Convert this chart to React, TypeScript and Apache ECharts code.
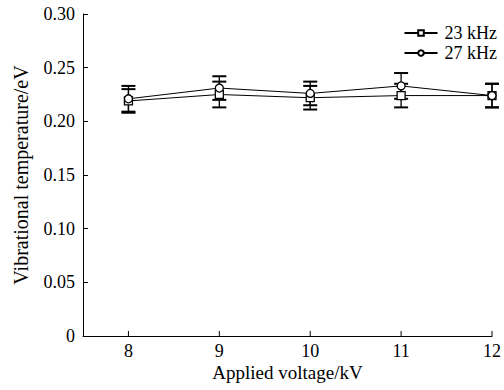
import React, { useEffect, useRef } from "react";
import * as echarts from "echarts";

const voltages = [8, 9, 10, 11, 12];
const t23 = [0.219, 0.225, 0.222, 0.224, 0.224];
const e23 = [0.011, 0.012, 0.011, 0.011, 0.011];
const t27 = [0.221, 0.231, 0.226, 0.233, 0.224];
const e27 = [0.012, 0.011, 0.011, 0.012, 0.011];
const seriesNames = ["23 kHz", "27 kHz"];

const FONT = "'Liberation Serif', 'Times New Roman', serif";

function errorSeries(vals: number[], errs: number[]) {
  return {
    type: "custom",
    silent: true,
    z: 3,
    data: voltages.map((v, i) => [v, vals[i] - errs[i], vals[i] + errs[i]]),
    renderItem: (params: any, api: any) => {
      const x = api.value(0);
      const lo = api.coord([x, api.value(1)]);
      const hi = api.coord([x, api.value(2)]);
      const w = 7;
      const style = { stroke: "#000", lineWidth: 1.3 };
      return {
        type: "group",
        children: [
          { type: "line", shape: { x1: lo[0], y1: lo[1], x2: hi[0], y2: hi[1] }, style },
          { type: "line", shape: { x1: lo[0] - w, y1: lo[1], x2: lo[0] + w, y2: lo[1] }, style: { stroke: "#000", lineWidth: 2 } },
          { type: "line", shape: { x1: hi[0] - w, y1: hi[1], x2: hi[0] + w, y2: hi[1] }, style: { stroke: "#000", lineWidth: 2 } },
        ],
      };
    },
  };
}

const xTickSeries = {
  type: "custom",
  silent: true,
  z: 2,
  clip: false,
  data: voltages.map((v) => [v, 0]),
  renderItem: (params: any, api: any) => {
    const p = api.coord([api.value(0), 0]);
    return {
      type: "line",
      shape: { x1: p[0], y1: p[1], x2: p[0], y2: p[1] - 5 },
      style: { stroke: "#000", lineWidth: 1 },
    };
  },
};

export default function App() {
  const ref = useRef<HTMLDivElement>(null);
  useEffect(() => {
    const chart = echarts.init(ref.current!, null, { renderer: "svg" });
    chart.setOption({
      animation: false,
      backgroundColor: "#fff",
      textStyle: { fontFamily: FONT, color: "#000" },
      grid: { left: 83, right: 10, top: 14, bottom: 54, containLabel: false },
      legend: {
        right: 2,
        top: 19,
        orient: "vertical",
        itemWidth: 33,
        itemHeight: 7,
        itemGap: 2,
        textStyle: { fontFamily: FONT, fontSize: 18, color: "#000", padding: [0, 0, 0, 2] },
        data: seriesNames,
      },
      xAxis: {
        type: "value",
        min: 7.5,
        max: 12,
        interval: 0.5,
        name: "Applied voltage/kV",
        nameLocation: "middle",
        nameGap: 27,
        nameMoveOverlap: false,
        nameTextStyle: { fontFamily: FONT, fontSize: 19, lineHeight: 19, color: "#000" },
        axisLine: { lineStyle: { color: "#000", width: 1 } },
        axisTick: { show: false },
        axisLabel: {
          fontFamily: FONT,
          fontSize: 18,
          lineHeight: 16,
          color: "#000",
          margin: 7,
          showMaxLabel: true,
          formatter: (v: number) => (Number.isInteger(v) ? String(v) : ""),
        },
        splitLine: { show: false },
      },
      yAxis: {
        type: "value",
        min: 0,
        max: 0.3,
        interval: 0.05,
        name: "Vibrational temperature/eV",
        nameLocation: "middle",
        nameGap: 52,
        nameMoveOverlap: false,
        nameTextStyle: { fontFamily: FONT, fontSize: 20, color: "#000" },
        axisLine: { show: true, lineStyle: { color: "#000", width: 1 } },
        axisTick: { show: true, inside: true, length: 5, lineStyle: { color: "#000" } },
        axisLabel: {
          fontFamily: FONT,
          fontSize: 18,
          color: "#000",
          margin: 8,
          formatter: (v: number) => (v === 0 ? "0" : v.toFixed(2)),
        },
        splitLine: { show: false },
      },
      series: [
        {
          name: seriesNames[0],
          type: "line",
          data: voltages.map((v, i) => [v, t23[i]]),
          symbol: "rect",
          symbolSize: 8,
          lineStyle: { color: "#000", width: 1 },
          itemStyle: { color: "#fff", borderColor: "#000", borderWidth: 1.3 },
          z: 4,
        },
        {
          name: seriesNames[1],
          type: "line",
          data: voltages.map((v, i) => [v, t27[i]]),
          symbol: "circle",
          symbolSize: 8,
          lineStyle: { color: "#000", width: 1 },
          itemStyle: { color: "#fff", borderColor: "#000", borderWidth: 1.3 },
          z: 4,
        },
        errorSeries(t23, e23),
        errorSeries(t27, e27),
        xTickSeries,
      ],
    });
    return () => chart.dispose();
  }, []);
  return (
    <div
      ref={ref}
      style={{ position: "fixed", left: 0, top: 0, width: 504, height: 390, overflow: "hidden" }}
    />
  );
}
